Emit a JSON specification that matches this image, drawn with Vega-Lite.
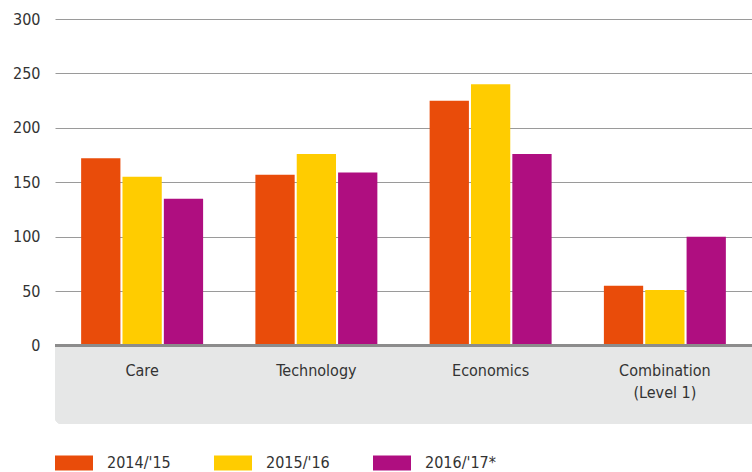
{
  "$schema": "https://vega.github.io/schema/vega-lite/v6.json",
  "autosize": "none",
  "width": 697,
  "height": 405,
  "padding": {"left": 55, "top": 19, "right": 0, "bottom": 48},
  "background": "white",
  "config": {
    "view": {"stroke": null},
    "font": "DejaVu Sans Condensed",
    "axis": {"labelFont": "DejaVu Sans Condensed", "labelColor": "#333333", "labelFontSize": 16},
    "legend": {"labelFont": "DejaVu Sans Condensed", "labelColor": "#333333", "labelFontSize": 16}
  },
  "data": {
    "values": [
      {"field": "Care", "year": "2014/'15", "value": 172},
      {"field": "Care", "year": "2015/'16", "value": 155},
      {"field": "Care", "year": "2016/'17*", "value": 135},
      {"field": "Technology", "year": "2014/'15", "value": 157},
      {"field": "Technology", "year": "2015/'16", "value": 176},
      {"field": "Technology", "year": "2016/'17*", "value": 159},
      {"field": "Economics", "year": "2014/'15", "value": 225},
      {"field": "Economics", "year": "2015/'16", "value": 240},
      {"field": "Economics", "year": "2016/'17*", "value": 176},
      {"field": "Combination (Level 1)", "year": "2014/'15", "value": 55},
      {"field": "Combination (Level 1)", "year": "2015/'16", "value": 51},
      {"field": "Combination (Level 1)", "year": "2016/'17*", "value": 100}
    ]
  },
  "layer": [
    {
      "mark": {"type": "rect", "color": "#e6e7e7", "cornerRadiusBottomLeft": 7},
      "encoding": {
        "y": {"datum": -72, "type": "quantitative", "scale": {"domain": [-72, 300], "nice": false}},
        "y2": {"datum": 0}
      }
    },
    {
      "mark": {"type": "bar"},
      "encoding": {
        "x": {
          "field": "field", "type": "nominal", "sort": null,
          "scale": {"paddingInner": 0.3, "paddingOuter": 0.15},
          "axis": {
            "title": null, "orient": "bottom", "domain": false, "ticks": false,
            "labelAngle": 0, "offset": -62, "labelPadding": 0, "labelBaseline": "top",
            "labelLineHeight": 22, "zindex": 2,
            "labelExpr": "datum.label == 'Combination (Level 1)' ? ['Combination', '(Level 1)'] : datum.label"
          }
        },
        "xOffset": {"field": "year", "type": "nominal", "sort": null, "scale": {"paddingInner": 0.05, "paddingOuter": 0}},
        "y": {
          "field": "value", "type": "quantitative",
          "scale": {"domain": [-72, 300], "nice": false},
          "axis": {
            "title": null, "values": [0, 50, 100, 150, 200, 250, 300], "grid": true,
            "gridColor": "#9a9a9a", "gridWidth": 1, "domain": false, "ticks": false,
            "labelPadding": 15
          }
        },
        "color": {
          "field": "year", "type": "nominal", "sort": null,
          "scale": {"range": ["#e94c0a", "#ffcc00", "#af0e80"]},
          "legend": {
            "title": null, "orient": "none", "legendX": 0, "legendY": 425,
            "direction": "horizontal",
            "symbolType": "M-1,-0.4H1V0.4H-1Z", "symbolSize": 1444,
            "symbolStrokeWidth": 0, "symbolOpacity": 1,
            "labelOffset": 14, "columnPadding": 36, "gridAlign": "all"
          }
        }
      }
    },
    {
      "mark": {"type": "rule", "color": "#8c8c8c", "strokeWidth": 3},
      "encoding": {"y": {"datum": 0}}
    }
  ]
}
